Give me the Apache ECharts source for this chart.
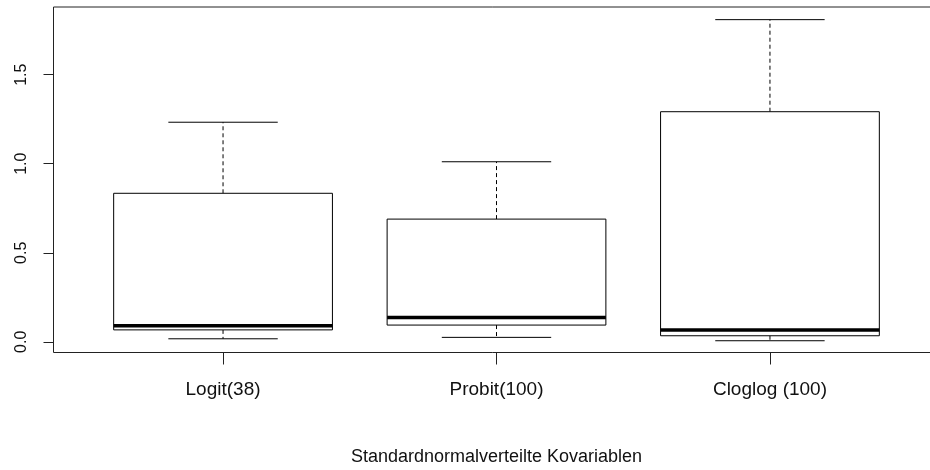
<!DOCTYPE html>
<html>
<head>
<meta charset="utf-8">
<script src="https://cdn.jsdelivr.net/npm/echarts@6/dist/echarts.min.js"></script>
<style>
html,body{margin:0;padding:0;background:#fff;}
#chart{width:930px;height:470px;}
</style>
</head>
<body>
<div id="chart"></div>
<script>
// Data
const categories = ['Logit(38)', 'Probit(100)', 'Cloglog (100)'];
const lowerWhisker = [0.017, 0.025, 0.006];
const q1 = [0.067, 0.094, 0.034];
const median = [0.090, 0.137, 0.066];
const q3 = [0.834, 0.689, 1.292];
const upperWhisker = [1.233, 1.011, 1.809];
const yTicks = [0, 0.5, 1.0, 1.5];
const xTitle = 'Standardnormalverteilte Kovariablen';

const boxData = categories.map((c, i) => [i + 1, lowerWhisker[i], q1[i], median[i], q3[i], upperWhisker[i]]);

const FONT = 'Liberation Sans, Arial, sans-serif';
const chart = echarts.init(document.getElementById('chart'), null, {renderer: 'canvas'});

function renderItem(params, api) {
  const x = api.value(0);
  const lo = api.coord([x, api.value(1)]);
  const b1 = api.coord([x, api.value(2)]);
  const md = api.coord([x, api.value(3)]);
  const b3 = api.coord([x, api.value(4)]);
  const hi = api.coord([x, api.value(5)]);
  const w = api.size([0.8, 0])[0];
  const cx = lo[0];
  const line = {stroke: '#000', lineWidth: 1, fill: null};
  const dash = {stroke: '#000', lineWidth: 1, lineDash: [4, 3], fill: null};
  return {
    type: 'group',
    children: [
      {type: 'line', shape: {x1: cx, y1: b3[1], x2: cx, y2: hi[1]}, style: dash},
      {type: 'line', shape: {x1: cx, y1: b1[1], x2: cx, y2: lo[1]}, style: dash},
      {type: 'line', shape: {x1: cx - w / 4, y1: hi[1], x2: cx + w / 4, y2: hi[1]}, style: line},
      {type: 'line', shape: {x1: cx - w / 4, y1: lo[1], x2: cx + w / 4, y2: lo[1]}, style: line},
      {type: 'rect', shape: {x: cx - w / 2, y: b3[1], width: w, height: b1[1] - b3[1]},
        style: {fill: '#fff', stroke: '#000', lineWidth: 1}},
      {type: 'line', shape: {x1: cx - w / 2, y1: md[1], x2: cx + w / 2, y2: md[1]},
        style: {stroke: '#000', lineWidth: 3.5}}
    ]
  };
}

chart.setOption({
  animation: false,
  backgroundColor: '#fff',
  grid: {
    left: 53.5, top: 7, width: 886, height: 345.5,
    containLabel: false, outerBoundsMode: 'none',
    show: true, borderColor: '#222', borderWidth: 1, backgroundColor: 'transparent'
  },
  xAxis: {
    type: 'value',
    min: 0.38, max: 3.62,
    name: xTitle,
    nameLocation: 'middle',
    nameGap: 96,
    nameTextStyle: {fontFamily: FONT, fontSize: 18, color: '#111'},
    axisLine: {show: false, onZero: false},
    splitLine: {show: false},
    axisTick: {show: true, length: 12, inside: false, customValues: [1, 2, 3], lineStyle: {color: '#222'}},
    axisLabel: {
      show: true, customValues: [1, 2, 3], margin: 28,
      fontFamily: FONT, fontSize: 19, color: '#111',
      formatter: v => categories[Math.round(v) - 1] || ''
    }
  },
  yAxis: {
    type: 'value',
    min: -0.06, max: 1.88,
    axisLine: {show: false, onZero: false},
    splitLine: {show: false},
    axisTick: {show: true, length: 10, inside: false, customValues: yTicks, lineStyle: {color: '#222'}},
    axisLabel: {
      show: true, customValues: yTicks, rotate: 90, margin: 24,
      fontFamily: FONT, fontSize: 16, color: '#111',
      formatter: v => v.toFixed(1)
    }
  },
  series: [{
    type: 'custom',
    renderItem: renderItem,
    data: boxData,
    encode: {x: 0, y: [1, 2, 3, 4, 5]},
    clip: false
  }]
});
</script>
</body>
</html>
